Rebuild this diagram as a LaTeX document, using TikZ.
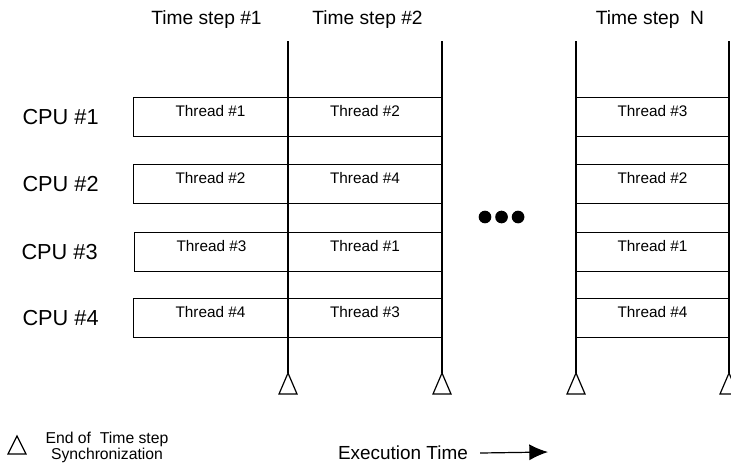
\documentclass[tikz,border=0pt]{standalone}
\usepackage{fontspec}
\setmainfont{Liberation Sans}
\usetikzlibrary{arrows.meta, positioning}

\begin{document}
\begin{tikzpicture}[
    x=0.75pt, y=-0.75pt,
    every node/.style={inner sep=0pt},
    slot/.style={rectangle, draw, line width=0.9pt, minimum width=115.5pt, minimum height=29.5pt,
        label={[anchor=north, yshift=-6.5pt, inner sep=0pt, font=\fontsize{11.5}{13}\selectfont]north:#1}},
    cpu/.style={font=\fontsize{16.3}{18}\selectfont, left=25.5pt of #1},
    steplabel/.style={font=\fontsize{14.4}{16}\selectfont},
    sync/.style={line width=0.9pt},
    dot/.style={circle, fill, minimum size=9.5pt},
    arrow/.style={-{Latex[length=14pt, width=12pt]}, line width=0.9pt}
]
\useasboundingbox (0,0) rectangle (731,462);

% thread slots per cpu and time step
\node[slot=Thread \#1] (s11) at (210.5,117) {};
\node[slot=Thread \#2] (s12) at (365,117) {};
\node[slot=Thread \#3] (s1n) at (652.5,117) {};
\node[slot=Thread \#2] (s21) at (210.5,184) {};
\node[slot=Thread \#4] (s22) at (365,184) {};
\node[slot=Thread \#2] (s2n) at (652.5,184) {};
\node[slot=Thread \#3] (s31) at (211.5,252) {};
\node[slot=Thread \#1] (s32) at (365,252) {};
\node[slot=Thread \#1] (s3n) at (652.5,252) {};
\node[slot=Thread \#4] (s41) at (210.5,318) {};
\node[slot=Thread \#3] (s42) at (365,318) {};
\node[slot=Thread \#4] (s4n) at (652.5,318) {};

\node[cpu=s11] (cpu1) {CPU \#1};
\node[cpu=s21] (cpu2) {CPU \#2};
\node[cpu=s31, xshift=-1.5pt] (cpu3) {CPU \#3};
\node[cpu=s41] (cpu4) {CPU \#4};

\node[steplabel] (ts1) at (206.5,20) {Time step \#1};
\node[steplabel] (ts2) at (367.5,20) {Time step \#2};
\node[steplabel] (tsn) at (650,20) {Time step\ \ N};

% synchronization lines
\coordinate (l1t) at (288,41); \coordinate (l1b) at (288,373);
\coordinate (l2t) at (442,41); \coordinate (l2b) at (442,373);
\coordinate (l3t) at (576,41); \coordinate (l3b) at (576,373);
\coordinate (l4t) at (729,41); \coordinate (l4b) at (729,373);
\draw[sync] (l1t) -- (l1b);
\draw[sync] (l2t) -- (l2b);
\draw[sync] (l3t) -- (l3b);
\draw[sync] (l4t) -- (l4b);
\draw[sync] (l1b) -- ++(-9,21) -- ++(18,0) -- cycle;
\draw[sync] (l2b) -- ++(-9,21) -- ++(18,0) -- cycle;
\draw[sync] (l3b) -- ++(-9,21) -- ++(18,0) -- cycle;
\draw[sync] (l4b) -- ++(-9,21) -- ++(18,0) -- cycle;

\node[dot] (d1) at (485,217) {};
\node[dot, right=2.5pt of d1] (d2) {};
\node[dot, right=2.5pt of d2] (d3) {};

% legend
\coordinate (key) at (17,436);
\draw[sync] (key) -- ++(-9,18) -- ++(18,0) -- cycle;
\node[align=center, font=\fontsize{11.8}{12}\selectfont] (keytext) at (107,447) {End of\ \ Time step\\Synchronization};
\node[font=\fontsize{14.2}{16}\selectfont] (exec) at (403,453) {Execution Time};
\coordinate (arrowend) at (548,452);
\draw[arrow] ([xshift=9pt]exec.east) -- (arrowend);
\end{tikzpicture}
\end{document}
